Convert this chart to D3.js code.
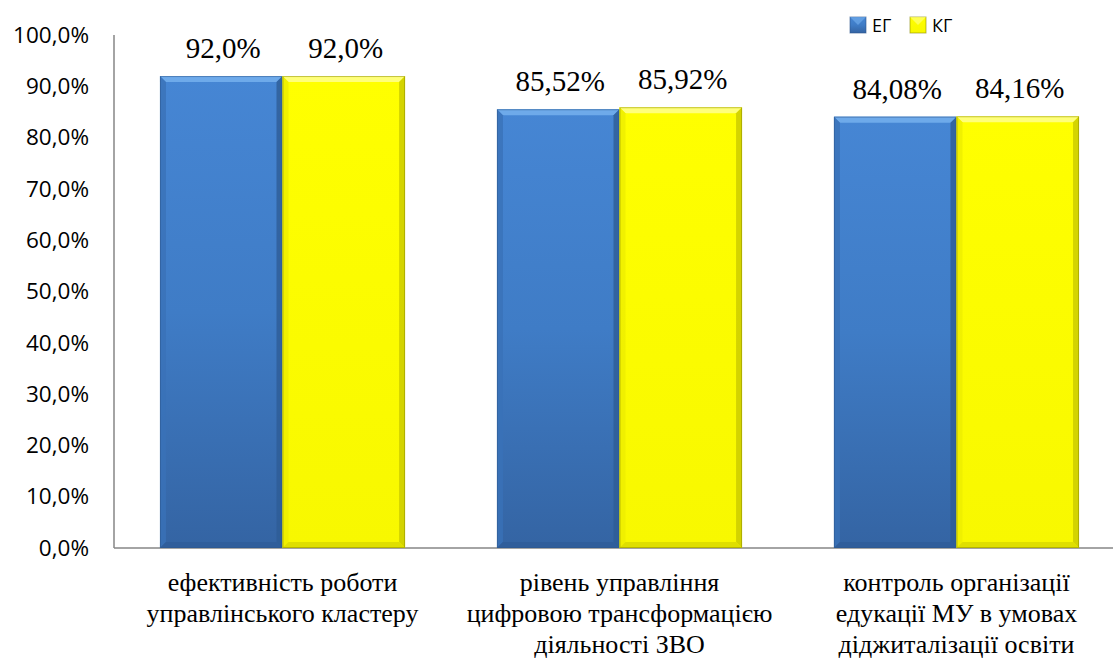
<!DOCTYPE html>
<html>
<head>
<meta charset="utf-8">
<script src="https://cdn.jsdelivr.net/npm/d3@7"></script>
<style>
  body { margin: 0; background: #fff; }
  svg { display: block; }
  .serif { font-family: "Liberation Serif", "DejaVu Serif", "Noto Serif", "Times New Roman", Times, serif; }
  .sans { font-family: "Open Sans", "Noto Sans", sans-serif; }
</style>
</head>
<body>
<script>
// chart values
var categories = [
  ["ефективність роботи", "управлінського кластеру"],
  ["рівень управління", "цифровою трансформацією", "діяльності ЗВО"],
  ["контроль організації", "едукації МУ в умовах", "діджиталізації освіти"]
];
var seriesNames = ["ЕГ", "КГ"];
var egValues = [92.0, 85.52, 84.08];
var kgValues = [92.0, 85.92, 84.16];
var egLabels = ["92,0%", "85,52%", "84,08%"];
var kgLabels = ["92,0%", "85,92%", "84,16%"];
var yTicks = [0, 10, 20, 30, 40, 50, 60, 70, 80, 90, 100];

var W = 1113, H = 659;
var plotLeft = 114, plotTop = 35, plotBottom = 548, plotRight = 1125;

var svg = d3.select("body").append("svg")
    .attr("width", W)
    .attr("height", H);

var defs = svg.append("defs");

function grad(id, stops) {
  var g = defs.append("linearGradient")
      .attr("id", id)
      .attr("x1", 0).attr("y1", 0).attr("x2", 0).attr("y2", 1);
  stops.forEach(function(s) {
    g.append("stop").attr("offset", s[0]).attr("stop-color", s[1]);
  });
}
grad("blueFill", [[0, "#4686d4"], [0.5, "#3f7cc6"], [1, "#3464a3"]]);
grad("yellowFill", [[0, "#ffff00"], [1, "#f8f800"]]);

var styles = {
  "ЕГ": { fill: "url(#blueFill)", top: "#6eaaea", left: "#3a72b8", right: "#2e5c96", bottom: "#2f5d98", edge: "#2b558c" },
  "КГ": { fill: "url(#yellowFill)", top: "#ffff7a", left: "#eded00", right: "#c9c900", bottom: "#d8d800", edge: "#8a8a00" }
};

var x0 = d3.scaleBand()
    .domain(d3.range(categories.length))
    .range([plotLeft, plotRight])
    .paddingInner(0.2727)
    .paddingOuter(0.1364);

var x1 = d3.scaleBand()
    .domain(seriesNames)
    .range([0, x0.bandwidth()]);

var y = d3.scaleLinear()
    .domain([0, 100])
    .range([plotBottom, plotTop]);

// y axis labels
var yAxis = d3.axisLeft(y)
    .tickValues(yTicks)
    .tickSize(0)
    .tickPadding(25)
    .tickFormat(function(d) { return d3.format(".1f")(d).replace(".", ",") + "%"; });

var yg = svg.append("g")
    .attr("transform", "translate(" + plotLeft + ",0)")
    .call(yAxis);
yg.select(".domain").remove();
yg.attr("font-family", null);
yg.selectAll("text")
    .attr("class", "sans")
    .attr("fill", "#000")
    .style("font-size", "22.5px");

// axis lines
svg.append("line")
    .attr("x1", plotLeft).attr("x2", plotLeft)
    .attr("y1", y(100)).attr("y2", y(0))
    .attr("stroke", "#868686").attr("stroke-width", 1.5);
svg.append("line")
    .attr("x1", plotLeft).attr("x2", W)
    .attr("y1", y(0)).attr("y2", y(0))
    .attr("stroke", "#868686").attr("stroke-width", 1.5);

// bars
var rows = [];
categories.forEach(function(c, i) {
  rows.push({ cat: i, name: "ЕГ", value: egValues[i], label: egLabels[i] });
  rows.push({ cat: i, name: "КГ", value: kgValues[i], label: kgLabels[i] });
});

var bars = svg.selectAll(".bar")
    .data(rows)
  .enter().append("g")
    .attr("class", "bar");

var b = 6;
bars.each(function(d) {
  var g = d3.select(this);
  var s = styles[d.name];
  var bx = x0(d.cat) + x1(d.name), bw = x1.bandwidth();
  var by = y(d.value), bh = y(0) - y(d.value);
  g.append("rect")
      .attr("x", bx).attr("y", by).attr("width", bw).attr("height", bh)
      .attr("fill", s.fill);
  // bevels
  g.append("polygon")
      .attr("points", [[bx, by], [bx + bw, by], [bx + bw - b, by + b], [bx + b, by + b]].join(" "))
      .attr("fill", s.top);
  g.append("polygon")
      .attr("points", [[bx, by], [bx + b, by + b], [bx + b, by + bh - b], [bx, by + bh]].join(" "))
      .attr("fill", s.left).attr("opacity", 0.8);
  g.append("polygon")
      .attr("points", [[bx + bw, by], [bx + bw - b, by + b], [bx + bw - b, by + bh - b], [bx + bw, by + bh]].join(" "))
      .attr("fill", s.right).attr("opacity", 0.8);
  g.append("polygon")
      .attr("points", [[bx, by + bh], [bx + b, by + bh - b], [bx + bw - b, by + bh - b], [bx + bw, by + bh]].join(" "))
      .attr("fill", s.bottom).attr("opacity", 0.8);
  g.append("rect")
      .attr("x", bx + 0.5).attr("y", by + 0.5).attr("width", bw - 1).attr("height", bh - 1)
      .attr("fill", "none").attr("stroke", s.edge).attr("stroke-opacity", 0.5);

  g.append("text")
      .attr("class", "serif")
      .attr("x", bx + bw / 2 + 2)
      .attr("y", by - 18)
      .attr("text-anchor", "middle")
      .style("font-size", "29px")
      .text(d.label);
});

// category labels
var cats = svg.selectAll(".cat")
    .data(categories)
  .enter().append("text")
    .attr("class", "cat serif")
    .attr("text-anchor", "middle")
    .style("font-size", "26px");

cats.each(function(lines, i) {
  var t = d3.select(this);
  lines.forEach(function(l, j) {
    t.append("tspan")
        .attr("x", x0(i) + x0.bandwidth() / 2)
        .attr("y", 591 + j * 31)
        .text(l);
  });
});

// legend
var legend = svg.selectAll(".legend")
    .data(seriesNames)
  .enter().append("g")
    .attr("class", "legend")
    .attr("transform", function(d, i) { return "translate(" + (850 + i * 60) + ",17)"; });

legend.append("rect")
    .attr("width", 16).attr("height", 16)
    .attr("fill", function(d) { return styles[d].fill; })
    .attr("stroke", function(d) { return styles[d].edge; })
    .attr("stroke-opacity", 0.6);

legend.append("polygon")
    .attr("points", "0,0 16,0 8,8")
    .attr("fill", function(d) { return styles[d].top; })
    .attr("opacity", 0.7);

legend.append("text")
    .attr("class", "sans")
    .attr("x", 22)
    .attr("y", 15)
    .style("font-size", "18px")
    .text(function(d) { return d; });
</script>
</body>
</html>
